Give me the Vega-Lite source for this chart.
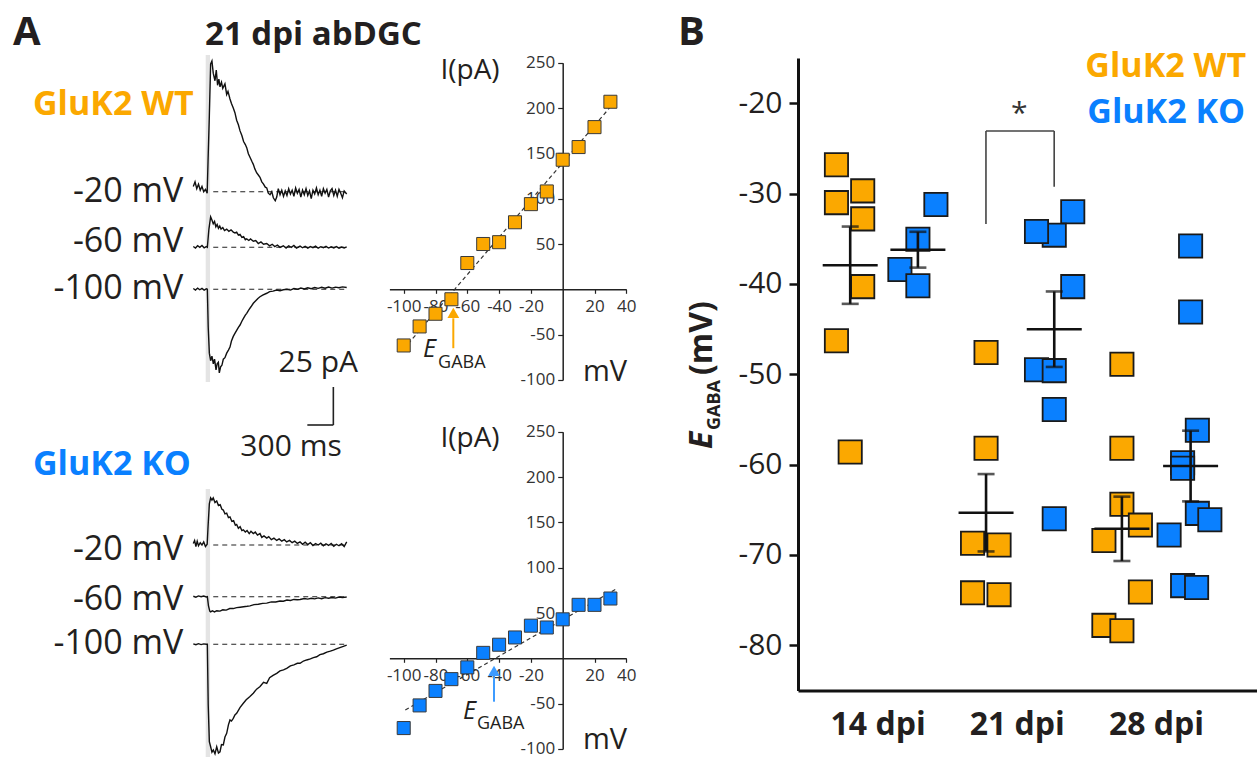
{
"$schema": "https://vega.github.io/schema/vega-lite/v6.json",
"width": 1257, "height": 759, "padding": 0, "autosize": {"type": "none"},
"background": "#ffffff",
"config": {"view": {"stroke": null}, "font": "Open Sans", "text": {"font": "Open Sans", "color": "#231F20"}, "axis": {"labelFont": "Open Sans"}},
"datasets": {
"traces": [
{"tr":"W20","t":0,"pA":3.5},{"tr":"W20","t":20,"pA":6.5},{"tr":"W20","t":40,"pA":2},{"tr":"W20","t":60,"pA":5},{"tr":"W20","t":80,"pA":1},{"tr":"W20","t":100,"pA":3.5},{"tr":"W20","t":120,"pA":0},{"tr":"W20","t":140,"pA":1.5},{"tr":"W20","t":160,"pA":-1},{"tr":"W20","t":170,"pA":20},{"tr":"W20","t":185,"pA":50},{"tr":"W20","t":200,"pA":84},{"tr":"W20","t":215,"pA":86},{"tr":"W20","t":230,"pA":78},{"tr":"W20","t":250,"pA":73},{"tr":"W20","t":265,"pA":80},{"tr":"W20","t":280,"pA":70},{"tr":"W20","t":295,"pA":74},{"tr":"W20","t":308,"pA":69},{"tr":"W20","t":325,"pA":72},{"tr":"W20","t":340,"pA":68},{"tr":"W20","t":365,"pA":71},{"tr":"W20","t":385,"pA":64},{"tr":"W20","t":400,"pA":66},{"tr":"W20","t":423,"pA":61},{"tr":"W20","t":440,"pA":58},{"tr":"W20","t":461,"pA":55},{"tr":"W20","t":480,"pA":52},{"tr":"W20","t":500,"pA":47},{"tr":"W20","t":520,"pA":44},{"tr":"W20","t":539,"pA":40},{"tr":"W20","t":560,"pA":37},{"tr":"W20","t":580,"pA":33},{"tr":"W20","t":600,"pA":31},{"tr":"W20","t":616,"pA":29},{"tr":"W20","t":635,"pA":25},{"tr":"W20","t":655,"pA":22.5},{"tr":"W20","t":675,"pA":20},{"tr":"W20","t":692,"pA":18},{"tr":"W20","t":710,"pA":15},{"tr":"W20","t":730,"pA":12.5},{"tr":"W20","t":750,"pA":11},{"tr":"W20","t":769,"pA":9.5},{"tr":"W20","t":790,"pA":6.5},{"tr":"W20","t":810,"pA":5},{"tr":"W20","t":830,"pA":3},{"tr":"W20","t":847,"pA":2.5},{"tr":"W20","t":865,"pA":-1},{"tr":"W20","t":885,"pA":-2},{"tr":"W20","t":905,"pA":0},{"tr":"W20","t":923,"pA":-4},{"tr":"W20","t":945,"pA":-6},{"tr":"W20","t":962,"pA":-3.5},{"tr":"W20","t":980,"pA":2},{"tr":"W20","t":1000,"pA":-2},{"tr":"W20","t":1020,"pA":1},{"tr":"W20","t":1040,"pA":-3},{"tr":"W20","t":1060,"pA":0.5},{"tr":"W20","t":1080,"pA":-2.5},{"tr":"W20","t":1100,"pA":2},{"tr":"W20","t":1120,"pA":-1.5},{"tr":"W20","t":1140,"pA":1},{"tr":"W20","t":1160,"pA":-3},{"tr":"W20","t":1180,"pA":2.5},{"tr":"W20","t":1200,"pA":-1},{"tr":"W20","t":1220,"pA":1.5},{"tr":"W20","t":1240,"pA":-3.5},{"tr":"W20","t":1260,"pA":1},{"tr":"W20","t":1280,"pA":-2},{"tr":"W20","t":1300,"pA":2},{"tr":"W20","t":1320,"pA":-2.5},{"tr":"W20","t":1340,"pA":0.5},{"tr":"W20","t":1360,"pA":-4.5},{"tr":"W20","t":1380,"pA":1},{"tr":"W20","t":1400,"pA":-1.5},{"tr":"W20","t":1420,"pA":2.5},{"tr":"W20","t":1440,"pA":-2},{"tr":"W20","t":1460,"pA":1},{"tr":"W20","t":1480,"pA":-3},{"tr":"W20","t":1500,"pA":2},{"tr":"W20","t":1520,"pA":-1},{"tr":"W20","t":1540,"pA":1.5},{"tr":"W20","t":1560,"pA":-3.5},{"tr":"W20","t":1580,"pA":0.5},{"tr":"W20","t":1600,"pA":2},{"tr":"W20","t":1620,"pA":-2.5},{"tr":"W20","t":1640,"pA":1},{"tr":"W20","t":1660,"pA":-3},{"tr":"W20","t":1680,"pA":1.5},{"tr":"W20","t":1700,"pA":-1},{"tr":"W20","t":1720,"pA":-4},{"tr":"W20","t":1740,"pA":0.5},{"tr":"W20","t":1769,"pA":-1.5},
{"tr":"W60","t":0,"pA":0.5},{"tr":"W60","t":25,"pA":-0.5},{"tr":"W60","t":50,"pA":1},{"tr":"W60","t":75,"pA":0},{"tr":"W60","t":100,"pA":1.2},{"tr":"W60","t":125,"pA":-0.3},{"tr":"W60","t":150,"pA":0.5},{"tr":"W60","t":162,"pA":0},{"tr":"W60","t":180,"pA":12},{"tr":"W60","t":200,"pA":20},{"tr":"W60","t":215,"pA":18},{"tr":"W60","t":230,"pA":15.5},{"tr":"W60","t":245,"pA":17},{"tr":"W60","t":260,"pA":13.5},{"tr":"W60","t":275,"pA":15},{"tr":"W60","t":290,"pA":12.5},{"tr":"W60","t":305,"pA":14},{"tr":"W60","t":320,"pA":12},{"tr":"W60","t":340,"pA":13},{"tr":"W60","t":360,"pA":11},{"tr":"W60","t":385,"pA":12},{"tr":"W60","t":410,"pA":10.5},{"tr":"W60","t":435,"pA":11.5},{"tr":"W60","t":461,"pA":10},{"tr":"W60","t":480,"pA":9.5},{"tr":"W60","t":500,"pA":10},{"tr":"W60","t":520,"pA":8},{"tr":"W60","t":539,"pA":8.5},{"tr":"W60","t":560,"pA":6.5},{"tr":"W60","t":580,"pA":7},{"tr":"W60","t":600,"pA":5},{"tr":"W60","t":616,"pA":5.5},{"tr":"W60","t":640,"pA":4.5},{"tr":"W60","t":660,"pA":5.5},{"tr":"W60","t":692,"pA":4},{"tr":"W60","t":720,"pA":4.5},{"tr":"W60","t":750,"pA":2.5},{"tr":"W60","t":780,"pA":3.5},{"tr":"W60","t":810,"pA":2},{"tr":"W60","t":847,"pA":2.5},{"tr":"W60","t":880,"pA":1},{"tr":"W60","t":910,"pA":2},{"tr":"W60","t":940,"pA":0.5},{"tr":"W60","t":970,"pA":1.5},{"tr":"W60","t":1000,"pA":0},{"tr":"W60","t":1038,"pA":1},{"tr":"W60","t":1070,"pA":-0.5},{"tr":"W60","t":1100,"pA":1},{"tr":"W60","t":1130,"pA":0},{"tr":"W60","t":1160,"pA":1.2},{"tr":"W60","t":1190,"pA":-0.5},{"tr":"W60","t":1231,"pA":0.8},{"tr":"W60","t":1260,"pA":-0.3},{"tr":"W60","t":1290,"pA":0.7},{"tr":"W60","t":1320,"pA":-0.5},{"tr":"W60","t":1350,"pA":0.5},{"tr":"W60","t":1380,"pA":-0.2},{"tr":"W60","t":1410,"pA":0.8},{"tr":"W60","t":1440,"pA":-0.6},{"tr":"W60","t":1470,"pA":0.4},{"tr":"W60","t":1500,"pA":-0.3},{"tr":"W60","t":1530,"pA":0.6},{"tr":"W60","t":1560,"pA":-0.5},{"tr":"W60","t":1590,"pA":0.3},{"tr":"W60","t":1620,"pA":-0.4},{"tr":"W60","t":1650,"pA":0.5},{"tr":"W60","t":1680,"pA":-0.6},{"tr":"W60","t":1710,"pA":0.2},{"tr":"W60","t":1740,"pA":-0.4},{"tr":"W60","t":1769,"pA":0.3},
{"tr":"W100","t":0,"pA":0.5},{"tr":"W100","t":25,"pA":-0.5},{"tr":"W100","t":50,"pA":0.8},{"tr":"W100","t":75,"pA":-0.3},{"tr":"W100","t":100,"pA":0.6},{"tr":"W100","t":125,"pA":-0.5},{"tr":"W100","t":150,"pA":0.3},{"tr":"W100","t":162,"pA":0},{"tr":"W100","t":172,"pA":-25},{"tr":"W100","t":185,"pA":-42},{"tr":"W100","t":200,"pA":-47},{"tr":"W100","t":215,"pA":-44},{"tr":"W100","t":231,"pA":-49},{"tr":"W100","t":245,"pA":-46},{"tr":"W100","t":262,"pA":-53},{"tr":"W100","t":275,"pA":-49},{"tr":"W100","t":289,"pA":-48},{"tr":"W100","t":300,"pA":-55},{"tr":"W100","t":315,"pA":-51},{"tr":"W100","t":330,"pA":-50},{"tr":"W100","t":346,"pA":-46},{"tr":"W100","t":365,"pA":-45},{"tr":"W100","t":385,"pA":-42},{"tr":"W100","t":405,"pA":-40},{"tr":"W100","t":423,"pA":-38},{"tr":"W100","t":440,"pA":-34},{"tr":"W100","t":461,"pA":-31},{"tr":"W100","t":480,"pA":-29},{"tr":"W100","t":500,"pA":-27},{"tr":"W100","t":520,"pA":-25},{"tr":"W100","t":539,"pA":-23.5},{"tr":"W100","t":560,"pA":-21},{"tr":"W100","t":580,"pA":-19},{"tr":"W100","t":600,"pA":-17},{"tr":"W100","t":616,"pA":-15.8},{"tr":"W100","t":640,"pA":-13.5},{"tr":"W100","t":665,"pA":-11.5},{"tr":"W100","t":692,"pA":-9.2},{"tr":"W100","t":720,"pA":-7.5},{"tr":"W100","t":745,"pA":-6},{"tr":"W100","t":769,"pA":-4.9},{"tr":"W100","t":800,"pA":-3.8},{"tr":"W100","t":847,"pA":-2.6},{"tr":"W100","t":880,"pA":-1.5},{"tr":"W100","t":920,"pA":-1.2},{"tr":"W100","t":960,"pA":-0.5},{"tr":"W100","t":1000,"pA":-0.9},{"tr":"W100","t":1038,"pA":-0.3},{"tr":"W100","t":1080,"pA":0},{"tr":"W100","t":1120,"pA":-0.5},{"tr":"W100","t":1160,"pA":0.5},{"tr":"W100","t":1200,"pA":0},{"tr":"W100","t":1240,"pA":0.8},{"tr":"W100","t":1280,"pA":0.2},{"tr":"W100","t":1320,"pA":1},{"tr":"W100","t":1360,"pA":0.4},{"tr":"W100","t":1400,"pA":1.2},{"tr":"W100","t":1440,"pA":0.6},{"tr":"W100","t":1480,"pA":1.3},{"tr":"W100","t":1520,"pA":0.7},{"tr":"W100","t":1560,"pA":1.5},{"tr":"W100","t":1600,"pA":0.8},{"tr":"W100","t":1640,"pA":1.4},{"tr":"W100","t":1680,"pA":1},{"tr":"W100","t":1720,"pA":1.6},{"tr":"W100","t":1769,"pA":1.2},
{"tr":"K20","t":0,"pA":1},{"tr":"K20","t":15,"pA":3},{"tr":"K20","t":30,"pA":-1},{"tr":"K20","t":45,"pA":2.5},{"tr":"K20","t":60,"pA":-0.5},{"tr":"K20","t":80,"pA":1.5},{"tr":"K20","t":100,"pA":0},{"tr":"K20","t":120,"pA":2},{"tr":"K20","t":140,"pA":-1},{"tr":"K20","t":160,"pA":0.5},{"tr":"K20","t":170,"pA":12},{"tr":"K20","t":185,"pA":27},{"tr":"K20","t":200,"pA":31},{"tr":"K20","t":215,"pA":29.5},{"tr":"K20","t":230,"pA":31},{"tr":"K20","t":250,"pA":28},{"tr":"K20","t":270,"pA":29},{"tr":"K20","t":290,"pA":26},{"tr":"K20","t":310,"pA":26.5},{"tr":"K20","t":330,"pA":23.5},{"tr":"K20","t":346,"pA":23},{"tr":"K20","t":365,"pA":20.5},{"tr":"K20","t":385,"pA":21},{"tr":"K20","t":405,"pA":18},{"tr":"K20","t":423,"pA":18.5},{"tr":"K20","t":445,"pA":15.5},{"tr":"K20","t":465,"pA":16},{"tr":"K20","t":485,"pA":13},{"tr":"K20","t":500,"pA":13.5},{"tr":"K20","t":520,"pA":11},{"tr":"K20","t":540,"pA":12},{"tr":"K20","t":560,"pA":9.5},{"tr":"K20","t":577,"pA":10},{"tr":"K20","t":600,"pA":8.5},{"tr":"K20","t":620,"pA":9.5},{"tr":"K20","t":645,"pA":7.5},{"tr":"K20","t":665,"pA":9},{"tr":"K20","t":692,"pA":7.5},{"tr":"K20","t":715,"pA":8.5},{"tr":"K20","t":740,"pA":6.5},{"tr":"K20","t":769,"pA":7.5},{"tr":"K20","t":790,"pA":5},{"tr":"K20","t":815,"pA":6},{"tr":"K20","t":847,"pA":4.5},{"tr":"K20","t":870,"pA":5.5},{"tr":"K20","t":900,"pA":3.5},{"tr":"K20","t":930,"pA":4.5},{"tr":"K20","t":962,"pA":3},{"tr":"K20","t":990,"pA":4},{"tr":"K20","t":1020,"pA":2.5},{"tr":"K20","t":1050,"pA":3.5},{"tr":"K20","t":1077,"pA":2},{"tr":"K20","t":1110,"pA":3},{"tr":"K20","t":1140,"pA":1.5},{"tr":"K20","t":1170,"pA":2.5},{"tr":"K20","t":1200,"pA":1},{"tr":"K20","t":1231,"pA":2},{"tr":"K20","t":1260,"pA":0.5},{"tr":"K20","t":1290,"pA":1.8},{"tr":"K20","t":1320,"pA":0.3},{"tr":"K20","t":1350,"pA":1.5},{"tr":"K20","t":1380,"pA":-0.3},{"tr":"K20","t":1410,"pA":1},{"tr":"K20","t":1440,"pA":0},{"tr":"K20","t":1470,"pA":1.2},{"tr":"K20","t":1500,"pA":-0.5},{"tr":"K20","t":1530,"pA":0.8},{"tr":"K20","t":1560,"pA":-0.3},{"tr":"K20","t":1590,"pA":1},{"tr":"K20","t":1620,"pA":-0.8},{"tr":"K20","t":1650,"pA":0.5},{"tr":"K20","t":1680,"pA":-0.5},{"tr":"K20","t":1710,"pA":0.8},{"tr":"K20","t":1740,"pA":-1},{"tr":"K20","t":1769,"pA":2},
{"tr":"K60","t":0,"pA":0.3},{"tr":"K60","t":30,"pA":-0.3},{"tr":"K60","t":60,"pA":0.5},{"tr":"K60","t":90,"pA":0},{"tr":"K60","t":120,"pA":0.4},{"tr":"K60","t":150,"pA":-0.2},{"tr":"K60","t":162,"pA":0},{"tr":"K60","t":175,"pA":-6},{"tr":"K60","t":190,"pA":-9.5},{"tr":"K60","t":200,"pA":-10},{"tr":"K60","t":220,"pA":-9.3},{"tr":"K60","t":245,"pA":-10},{"tr":"K60","t":270,"pA":-9.2},{"tr":"K60","t":308,"pA":-9.5},{"tr":"K60","t":340,"pA":-8.6},{"tr":"K60","t":380,"pA":-8.8},{"tr":"K60","t":420,"pA":-7.8},{"tr":"K60","t":461,"pA":-7.8},{"tr":"K60","t":500,"pA":-7.2},{"tr":"K60","t":540,"pA":-6.9},{"tr":"K60","t":580,"pA":-6.6},{"tr":"K60","t":620,"pA":-6.3},{"tr":"K60","t":654,"pA":-6},{"tr":"K60","t":700,"pA":-5.2},{"tr":"K60","t":750,"pA":-5},{"tr":"K60","t":800,"pA":-4.4},{"tr":"K60","t":847,"pA":-4.2},{"tr":"K60","t":900,"pA":-3.4},{"tr":"K60","t":950,"pA":-3.5},{"tr":"K60","t":1000,"pA":-2.8},{"tr":"K60","t":1038,"pA":-3},{"tr":"K60","t":1080,"pA":-2.2},{"tr":"K60","t":1120,"pA":-2.5},{"tr":"K60","t":1160,"pA":-1.8},{"tr":"K60","t":1200,"pA":-2},{"tr":"K60","t":1231,"pA":-1.8},{"tr":"K60","t":1280,"pA":-1.2},{"tr":"K60","t":1320,"pA":-1.6},{"tr":"K60","t":1360,"pA":-1},{"tr":"K60","t":1400,"pA":-1.4},{"tr":"K60","t":1440,"pA":-0.8},{"tr":"K60","t":1480,"pA":-1.3},{"tr":"K60","t":1520,"pA":-0.6},{"tr":"K60","t":1560,"pA":-1},{"tr":"K60","t":1600,"pA":-0.5},{"tr":"K60","t":1640,"pA":-0.9},{"tr":"K60","t":1680,"pA":-0.2},{"tr":"K60","t":1720,"pA":-0.6},{"tr":"K60","t":1769,"pA":-0.2},
{"tr":"K100","t":0,"pA":0.3},{"tr":"K100","t":30,"pA":-0.3},{"tr":"K100","t":60,"pA":0.4},{"tr":"K100","t":90,"pA":-0.2},{"tr":"K100","t":120,"pA":0.3},{"tr":"K100","t":150,"pA":0},{"tr":"K100","t":162,"pA":0},{"tr":"K100","t":172,"pA":-40},{"tr":"K100","t":185,"pA":-64},{"tr":"K100","t":200,"pA":-67.4},{"tr":"K100","t":215,"pA":-71},{"tr":"K100","t":231,"pA":-69.5},{"tr":"K100","t":250,"pA":-72},{"tr":"K100","t":270,"pA":-67.4},{"tr":"K100","t":290,"pA":-71.5},{"tr":"K100","t":308,"pA":-70.7},{"tr":"K100","t":325,"pA":-66},{"tr":"K100","t":346,"pA":-66.2},{"tr":"K100","t":365,"pA":-61},{"tr":"K100","t":385,"pA":-58.6},{"tr":"K100","t":405,"pA":-53},{"tr":"K100","t":423,"pA":-49.8},{"tr":"K100","t":440,"pA":-50.5},{"tr":"K100","t":461,"pA":-48.7},{"tr":"K100","t":480,"pA":-46.5},{"tr":"K100","t":500,"pA":-45.4},{"tr":"K100","t":540,"pA":-41.5},{"tr":"K100","t":577,"pA":-38.8},{"tr":"K100","t":610,"pA":-36.5},{"tr":"K100","t":650,"pA":-34.5},{"tr":"K100","t":692,"pA":-32.2},{"tr":"K100","t":730,"pA":-29.5},{"tr":"K100","t":770,"pA":-27.8},{"tr":"K100","t":810,"pA":-25},{"tr":"K100","t":847,"pA":-25.7},{"tr":"K100","t":880,"pA":-22},{"tr":"K100","t":920,"pA":-20.5},{"tr":"K100","t":962,"pA":-19.1},{"tr":"K100","t":1000,"pA":-17.5},{"tr":"K100","t":1040,"pA":-16.8},{"tr":"K100","t":1077,"pA":-15.8},{"tr":"K100","t":1120,"pA":-14.2},{"tr":"K100","t":1160,"pA":-13.5},{"tr":"K100","t":1200,"pA":-12.5},{"tr":"K100","t":1231,"pA":-12.5},{"tr":"K100","t":1270,"pA":-11},{"tr":"K100","t":1308,"pA":-10.3},{"tr":"K100","t":1350,"pA":-9.6},{"tr":"K100","t":1385,"pA":-8.8},{"tr":"K100","t":1423,"pA":-8.2},{"tr":"K100","t":1460,"pA":-6.8},{"tr":"K100","t":1500,"pA":-6.2},{"tr":"K100","t":1540,"pA":-5.2},{"tr":"K100","t":1580,"pA":-4.5},{"tr":"K100","t":1615,"pA":-3.8},{"tr":"K100","t":1650,"pA":-3},{"tr":"K100","t":1690,"pA":-2.2},{"tr":"K100","t":1730,"pA":-1.4},{"tr":"K100","t":1769,"pA":-0.5}
],
"iv": [
{"g":"WT","mV":-100,"pA":-62},{"g":"WT","mV":-90,"pA":-41},{"g":"WT","mV":-80,"pA":-27},{"g":"WT","mV":-70,"pA":-11},{"g":"WT","mV":-60,"pA":29},{"g":"WT","mV":-50,"pA":50},{"g":"WT","mV":-40,"pA":52},{"g":"WT","mV":-30,"pA":74},{"g":"WT","mV":-20,"pA":94},{"g":"WT","mV":-10,"pA":108},{"g":"WT","mV":0,"pA":143},{"g":"WT","mV":10,"pA":157},{"g":"WT","mV":20,"pA":179},{"g":"WT","mV":30,"pA":207},
{"g":"KO","mV":-100,"pA":-77},{"g":"KO","mV":-90,"pA":-52},{"g":"KO","mV":-80,"pA":-36},{"g":"KO","mV":-70,"pA":-23},{"g":"KO","mV":-60,"pA":-10},{"g":"KO","mV":-50,"pA":6},{"g":"KO","mV":-40,"pA":15},{"g":"KO","mV":-30,"pA":23},{"g":"KO","mV":-20,"pA":36},{"g":"KO","mV":-10,"pA":34},{"g":"KO","mV":0,"pA":43},{"g":"KO","mV":10,"pA":59},{"g":"KO","mV":20,"pA":59},{"g":"KO","mV":30,"pA":66}
],
"eg": [
{"g":"WT","dpi":14,"v":-26.8,"sw":-0.55},{"g":"WT","dpi":14,"v":-31.0,"sw":-0.55},{"g":"WT","dpi":14,"v":-29.7,"sw":0.5},{"g":"WT","dpi":14,"v":-32.8,"sw":0.5},{"g":"WT","dpi":14,"v":-40.3,"sw":0.5},{"g":"WT","dpi":14,"v":-46.3,"sw":-0.55},{"g":"WT","dpi":14,"v":-58.6,"sw":0},
{"g":"KO","dpi":14,"v":-31.2,"sw":0.72},{"g":"KO","dpi":14,"v":-35.05,"sw":0},{"g":"KO","dpi":14,"v":-38.4,"sw":-0.72},{"g":"KO","dpi":14,"v":-40.2,"sw":0},
{"g":"WT","dpi":21,"v":-47.6,"sw":0},{"g":"WT","dpi":21,"v":-58.2,"sw":0},{"g":"WT","dpi":21,"v":-68.7,"sw":-0.54},{"g":"WT","dpi":21,"v":-68.9,"sw":0.52},{"g":"WT","dpi":21,"v":-74.2,"sw":-0.54},{"g":"WT","dpi":21,"v":-74.4,"sw":0.52},
{"g":"KO","dpi":21,"v":-32.0,"sw":0.74},{"g":"KO","dpi":21,"v":-34.6,"sw":0},{"g":"KO","dpi":21,"v":-34.2,"sw":-0.71},{"g":"KO","dpi":21,"v":-40.3,"sw":0.74},{"g":"KO","dpi":21,"v":-49.5,"sw":-0.71},{"g":"KO","dpi":21,"v":-49.6,"sw":0},{"g":"KO","dpi":21,"v":-53.9,"sw":0},{"g":"KO","dpi":21,"v":-66.0,"sw":0},
{"g":"WT","dpi":28,"v":-48.9,"sw":0},{"g":"WT","dpi":28,"v":-58.2,"sw":0},{"g":"WT","dpi":28,"v":-64.4,"sw":0},{"g":"WT","dpi":28,"v":-66.7,"sw":0.74},{"g":"WT","dpi":28,"v":-68.4,"sw":-0.72},{"g":"WT","dpi":28,"v":-74.1,"sw":0.74},{"g":"WT","dpi":28,"v":-77.8,"sw":-0.72},{"g":"WT","dpi":28,"v":-78.4,"sw":0},
{"g":"KO","dpi":28,"v":-35.8,"sw":0},{"g":"KO","dpi":28,"v":-43.1,"sw":0},{"g":"KO","dpi":28,"v":-56.2,"sw":0.27},{"g":"KO","dpi":28,"v":-59.8,"sw":-0.32},{"g":"KO","dpi":28,"v":-60.4,"sw":-0.32},{"g":"KO","dpi":28,"v":-65.4,"sw":0.27},{"g":"KO","dpi":28,"v":-66.1,"sw":0.77},{"g":"KO","dpi":28,"v":-67.8,"sw":-0.86},{"g":"KO","dpi":28,"v":-73.4,"sw":-0.32},{"g":"KO","dpi":28,"v":-73.6,"sw":0.24}
]
},
"resolve": {"scale": {"x": "independent", "y": "independent"}},
"layer": [
{
 "layer": [
  {"data": {"values": [{}]}, "mark": {"type": "rect", "color": "#E4E4E4"}, "encoding": {"x": {"datum": 143, "axis": null}, "x2": {"datum": 193}, "y": {"datum": 90, "axis": null}, "y2": {"datum": -125.2}}},
  {"data": {"values": [{}]}, "mark": {"type": "rule", "color": "#222", "strokeWidth": 1.1, "strokeDash": [5, 4]}, "encoding": {"x": {"datum": 230, "axis": null}, "x2": {"datum": 1769}, "y": {"datum": 0, "axis": null}}},
  {"data": {"name": "traces"}, "transform": [{"filter": "datum.tr == 'W20'"}], "mark": {"type": "line", "color": "#111", "strokeWidth": 1.4},
   "encoding": {"x": {"field": "t", "type": "quantitative", "scale": {"domain": [0, 1769], "range": [193.3, 346.7], "nice": false, "zero": false}, "axis": null},
                "y": {"field": "pA", "type": "quantitative", "scale": {"domain": [0, 100], "range": [191.7, 39.7], "nice": false, "zero": false}, "axis": null}}},
  {"data": {"values": [{}]}, "mark": {"type": "text", "align": "right", "baseline": "middle", "fontSize": 34}, "encoding": {"x": {"datum": -115, "axis": null}, "y": {"datum": 0, "axis": null}, "text": {"value": "-20 mV"}}},
  {"data": {"values": [{}]}, "mark": {"type": "text", "align": "left", "baseline": "alphabetic", "fontSize": 40, "fontWeight": "bold"}, "encoding": {"x": {"datum": -2080, "axis": null}, "y": {"datum": 96.5, "axis": null}, "text": {"value": "A"}}},
  {"data": {"values": [{}]}, "mark": {"type": "text", "align": "left", "baseline": "alphabetic", "fontSize": 33, "fontWeight": "bold"}, "encoding": {"x": {"datum": 135, "axis": null}, "y": {"datum": 96.5, "axis": null}, "text": {"value": "21 dpi abDGC"}}},
  {"data": {"values": [{}]}, "mark": {"type": "text", "align": "left", "baseline": "alphabetic", "fontSize": 34, "fontWeight": "bold", "color": "#FBA800"}, "encoding": {"x": {"datum": -1849, "axis": null}, "y": {"datum": 50.5, "axis": null}, "text": {"value": "GluK2 WT"}}}
 ]
},
{
 "layer": [
  {"data": {"values": [{}]}, "mark": {"type": "rule", "color": "#222", "strokeWidth": 1.1, "strokeDash": [5, 4]}, "encoding": {"x": {"datum": 230, "axis": null}, "x2": {"datum": 1769}, "y": {"datum": 0, "axis": null}}},
  {"data": {"name": "traces"}, "transform": [{"filter": "datum.tr == 'W60'"}], "mark": {"type": "line", "color": "#111", "strokeWidth": 1.4},
   "encoding": {"x": {"field": "t", "type": "quantitative", "scale": {"domain": [0, 1769], "range": [193.3, 346.7], "nice": false, "zero": false}, "axis": null},
                "y": {"field": "pA", "type": "quantitative", "scale": {"domain": [0, 100], "range": [247.3, 95.3], "nice": false, "zero": false}, "axis": null}}},
  {"data": {"values": [{}]}, "mark": {"type": "text", "align": "right", "baseline": "middle", "fontSize": 34}, "encoding": {"x": {"datum": -115, "axis": null}, "y": {"datum": 3.7, "axis": null}, "text": {"value": "-60 mV"}}}
 ]
},
{
 "layer": [
  {"data": {"values": [{}]}, "mark": {"type": "rule", "color": "#222", "strokeWidth": 1.1, "strokeDash": [5, 4]}, "encoding": {"x": {"datum": 230, "axis": null}, "x2": {"datum": 1769}, "y": {"datum": 0, "axis": null}}},
  {"data": {"name": "traces"}, "transform": [{"filter": "datum.tr == 'W100'"}], "mark": {"type": "line", "color": "#111", "strokeWidth": 1.4},
   "encoding": {"x": {"field": "t", "type": "quantitative", "scale": {"domain": [0, 1769], "range": [193.3, 346.7], "nice": false, "zero": false}, "axis": null},
                "y": {"field": "pA", "type": "quantitative", "scale": {"domain": [0, 100], "range": [289.3, 137.3], "nice": false, "zero": false}, "axis": null}}},
  {"data": {"values": [{}]}, "mark": {"type": "text", "align": "right", "baseline": "middle", "fontSize": 34}, "encoding": {"x": {"datum": -115, "axis": null}, "y": {"datum": 0, "axis": null}, "text": {"value": "-100 mV"}}}
 ]
},
{
 "layer": [
  {"data": {"values": [{}]}, "mark": {"type": "rect", "color": "#E4E4E4"}, "encoding": {"x": {"datum": 143, "axis": null}, "x2": {"datum": 193}, "y": {"datum": 36.8, "axis": null}, "y2": {"datum": -139.5}}},
  {"data": {"values": [{}]}, "mark": {"type": "rule", "color": "#222", "strokeWidth": 1.1, "strokeDash": [5, 4]}, "encoding": {"x": {"datum": 230, "axis": null}, "x2": {"datum": 1769}, "y": {"datum": 0, "axis": null}}},
  {"data": {"name": "traces"}, "transform": [{"filter": "datum.tr == 'K20'"}], "mark": {"type": "line", "color": "#111", "strokeWidth": 1.4},
   "encoding": {"x": {"field": "t", "type": "quantitative", "scale": {"domain": [0, 1769], "range": [193.3, 346.7], "nice": false, "zero": false}, "axis": null},
                "y": {"field": "pA", "type": "quantitative", "scale": {"domain": [0, 100], "range": [545, 393], "nice": false, "zero": false}, "axis": null}}},
  {"data": {"values": [{}]}, "mark": {"type": "text", "align": "right", "baseline": "middle", "fontSize": 34}, "encoding": {"x": {"datum": -115, "axis": null}, "y": {"datum": -3.3, "axis": null}, "text": {"value": "-20 mV"}}},
  {"data": {"values": [{}]}, "mark": {"type": "text", "align": "left", "baseline": "alphabetic", "fontSize": 34, "fontWeight": "bold", "color": "#0A80FF"}, "encoding": {"x": {"datum": -1849, "axis": null}, "y": {"datum": 46, "axis": null}, "text": {"value": "GluK2 KO"}}}
 ]
},
{
 "layer": [
  {"data": {"values": [{}]}, "mark": {"type": "rule", "color": "#222", "strokeWidth": 1.1, "strokeDash": [5, 4]}, "encoding": {"x": {"datum": 230, "axis": null}, "x2": {"datum": 1769}, "y": {"datum": 0, "axis": null}}},
  {"data": {"name": "traces"}, "transform": [{"filter": "datum.tr == 'K60'"}], "mark": {"type": "line", "color": "#111", "strokeWidth": 1.4},
   "encoding": {"x": {"field": "t", "type": "quantitative", "scale": {"domain": [0, 1769], "range": [193.3, 346.7], "nice": false, "zero": false}, "axis": null},
                "y": {"field": "pA", "type": "quantitative", "scale": {"domain": [0, 100], "range": [596.7, 444.7], "nice": false, "zero": false}, "axis": null}}},
  {"data": {"values": [{}]}, "mark": {"type": "text", "align": "right", "baseline": "middle", "fontSize": 34}, "encoding": {"x": {"datum": -115, "axis": null}, "y": {"datum": -2.2, "axis": null}, "text": {"value": "-60 mV"}}}
 ]
},
{
 "layer": [
  {"data": {"values": [{}]}, "mark": {"type": "rule", "color": "#222", "strokeWidth": 1.1, "strokeDash": [5, 4]}, "encoding": {"x": {"datum": 230, "axis": null}, "x2": {"datum": 1769}, "y": {"datum": 0, "axis": null}}},
  {"data": {"name": "traces"}, "transform": [{"filter": "datum.tr == 'K100'"}], "mark": {"type": "line", "color": "#111", "strokeWidth": 1.4},
   "encoding": {"x": {"field": "t", "type": "quantitative", "scale": {"domain": [0, 1769], "range": [193.3, 346.7], "nice": false, "zero": false}, "axis": null},
                "y": {"field": "pA", "type": "quantitative", "scale": {"domain": [0, 100], "range": [644.3, 492.3], "nice": false, "zero": false}, "axis": null}}},
  {"data": {"values": [{}]}, "mark": {"type": "text", "align": "right", "baseline": "middle", "fontSize": 34}, "encoding": {"x": {"datum": -115, "axis": null}, "y": {"datum": 0, "axis": null}, "text": {"value": "-100 mV"}}}
 ]
},
{
 "data": {"values": [{}]},
 "layer": [
  {"mark": {"type": "rule", "color": "#222", "strokeWidth": 1.6}, "encoding": {"x": {"datum": 1615, "type": "quantitative", "scale": {"domain": [0, 1769], "range": [193.3, 346.7], "nice": false, "zero": false}, "axis": null}, "y": {"datum": 0, "type": "quantitative", "scale": {"domain": [0, 25], "range": [425, 387], "nice": false, "zero": false}, "axis": null}, "y2": {"datum": 25}}},
  {"mark": {"type": "rule", "color": "#222", "strokeWidth": 1.6}, "encoding": {"x": {"datum": 1315, "axis": null}, "x2": {"datum": 1615}, "y": {"datum": 0, "axis": null}}},
  {"mark": {"type": "text", "align": "right", "baseline": "middle", "fontSize": 30}, "encoding": {"x": {"datum": 1900, "axis": null}, "y": {"datum": 40.8, "axis": null}, "text": {"value": "25 pA"}}},
  {"mark": {"type": "text", "align": "center", "baseline": "middle", "fontSize": 30}, "encoding": {"x": {"datum": 1127, "axis": null}, "y": {"datum": -14.5, "axis": null}, "text": {"value": "300 ms"}}}
 ]
},
{
 "data": {"values": [{}]},
 "layer": [
  {"mark": {"type": "rule", "color": "#333", "strokeWidth": 1.2, "strokeDash": [4, 3]}, "encoding": {"x": {"datum": -100, "type": "quantitative", "scale": {"domain": [-109, 40], "range": [389.4, 626.3], "nice": false, "zero": false}, "axis": null}, "x2": {"datum": 30.8}, "y": {"datum": -66, "type": "quantitative", "scale": {"domain": [-100, 250], "range": [379.9, 62.8], "nice": false, "zero": false}, "axis": null}, "y2": {"datum": 203}}},
  {"mark": {"type": "rule", "color": "#FBA800", "strokeWidth": 2}, "encoding": {"x": {"datum": -68.8, "axis": null}, "y": {"datum": -65, "axis": null}, "y2": {"datum": -32}}},
  {"mark": {"type": "point", "shape": "triangle-up", "size": 140, "filled": true, "color": "#FBA800", "opacity": 1}, "encoding": {"x": {"datum": -68.8, "axis": null}, "y": {"datum": -26, "axis": null}}},
  {"mark": {"type": "text", "align": "left", "baseline": "middle", "fontSize": 25, "fontStyle": "italic"}, "encoding": {"x": {"datum": -87.9, "axis": null}, "y": {"datum": -65.9, "axis": null}, "text": {"value": "E"}}},
  {"mark": {"type": "text", "align": "left", "baseline": "middle", "fontSize": 18}, "encoding": {"x": {"datum": -78.4, "axis": null}, "y": {"datum": -81.3, "axis": null}, "text": {"value": "GABA"}}},
  {"mark": {"type": "text", "align": "center", "baseline": "middle", "fontSize": 28}, "encoding": {"x": {"datum": -58.3, "axis": null}, "y": {"datum": 241, "axis": null}, "text": {"value": "I(pA)"}}},
  {"mark": {"type": "text", "align": "center", "baseline": "middle", "fontSize": 29}, "encoding": {"x": {"datum": 26.6, "axis": null}, "y": {"datum": -91.3, "axis": null}, "text": {"value": "mV"}}}
 ]
},
{
 "data": {"name": "iv"}, "transform": [{"filter": "datum.g == 'WT'"}],
 "mark": {"type": "square", "size": 170, "filled": true, "fill": "#FBA800", "stroke": "#3a3a3a", "strokeWidth": 1, "opacity": 1},
 "encoding": {
  "x": {"field": "mV", "type": "quantitative", "scale": {"domain": [-109, 40], "range": [389.4, 626.3], "nice": false, "zero": false},
        "axis": {"orient": "bottom", "offset": -469.7, "values": [-100, -80, -60, -40, -20, 20, 40], "labelExpr": "datum.value < 0 ? '-' + abs(datum.value) : '' + datum.value", "tickSize": 4, "tickColor": "#222", "domainColor": "#222", "domainWidth": 1.5, "tickWidth": 1.2, "labelFontSize": 17, "labelColor": "#333", "labelPadding": 5, "labelOverlap": false, "labelFlush": false, "title": null, "grid": false}},
  "y": {"field": "pA", "type": "quantitative", "scale": {"domain": [-100, 250], "range": [379.9, 62.8], "nice": false, "zero": false},
        "axis": {"orient": "left", "offset": -562.7, "values": [-100, -50, 50, 100, 150, 200, 250], "labelExpr": "datum.value < 0 ? '-' + abs(datum.value) : '' + datum.value", "tickSize": 5, "tickColor": "#222", "domainColor": "#222", "domainWidth": 1.5, "tickWidth": 1.2, "labelFontSize": 17, "labelColor": "#333", "labelPadding": 3, "labelOverlap": false, "title": null, "grid": false}}
 }
},
{
 "data": {"values": [{}]},
 "layer": [
  {"mark": {"type": "rule", "color": "#333", "strokeWidth": 1.2, "strokeDash": [4, 3]}, "encoding": {"x": {"datum": -99, "type": "quantitative", "scale": {"domain": [-109, 40], "range": [389.4, 626.3], "nice": false, "zero": false}, "axis": null}, "x2": {"datum": 34.5}, "y": {"datum": -57, "type": "quantitative", "scale": {"domain": [-100, 250], "range": [748.9, 431.8], "nice": false, "zero": false}, "axis": null}, "y2": {"datum": 77.3}}},
  {"mark": {"type": "rule", "color": "#3D9BFF", "strokeWidth": 2}, "encoding": {"x": {"datum": -43.2, "axis": null}, "y": {"datum": -47.9, "axis": null}, "y2": {"datum": -20}}},
  {"mark": {"type": "point", "shape": "triangle-up", "size": 140, "filled": true, "color": "#3D9BFF", "opacity": 1}, "encoding": {"x": {"datum": -43.2, "axis": null}, "y": {"datum": -14, "axis": null}}},
  {"mark": {"type": "text", "align": "left", "baseline": "middle", "fontSize": 25, "fontStyle": "italic"}, "encoding": {"x": {"datum": -62.7, "axis": null}, "y": {"datum": -58.2, "axis": null}, "text": {"value": "E"}}},
  {"mark": {"type": "text", "align": "left", "baseline": "middle", "fontSize": 18}, "encoding": {"x": {"datum": -53.9, "axis": null}, "y": {"datum": -72.5, "axis": null}, "text": {"value": "GABA"}}},
  {"mark": {"type": "text", "align": "center", "baseline": "middle", "fontSize": 28}, "encoding": {"x": {"datum": -58.3, "axis": null}, "y": {"datum": 242, "axis": null}, "text": {"value": "I(pA)"}}},
  {"mark": {"type": "text", "align": "center", "baseline": "middle", "fontSize": 29}, "encoding": {"x": {"datum": 26.6, "axis": null}, "y": {"datum": -90.2, "axis": null}, "text": {"value": "mV"}}}
 ]
},
{
 "data": {"name": "iv"}, "transform": [{"filter": "datum.g == 'KO'"}],
 "mark": {"type": "square", "size": 170, "filled": true, "fill": "#0A80FF", "stroke": "#3a3a3a", "strokeWidth": 1, "opacity": 1},
 "encoding": {
  "x": {"field": "mV", "type": "quantitative", "scale": {"domain": [-109, 40], "range": [389.4, 626.3], "nice": false, "zero": false},
        "axis": {"orient": "bottom", "offset": -100.7, "values": [-100, -80, -60, -40, -20, 20, 40], "labelExpr": "datum.value < 0 ? '-' + abs(datum.value) : '' + datum.value", "tickSize": 4, "tickColor": "#222", "domainColor": "#222", "domainWidth": 1.5, "tickWidth": 1.2, "labelFontSize": 17, "labelColor": "#333", "labelPadding": 5, "labelOverlap": false, "labelFlush": false, "title": null, "grid": false}},
  "y": {"field": "pA", "type": "quantitative", "scale": {"domain": [-100, 250], "range": [748.9, 431.8], "nice": false, "zero": false},
        "axis": {"orient": "left", "offset": -562.7, "values": [-100, -50, 50, 100, 150, 200, 250], "labelExpr": "datum.value < 0 ? '-' + abs(datum.value) : '' + datum.value", "tickSize": 5, "tickColor": "#222", "domainColor": "#222", "domainWidth": 1.5, "tickWidth": 1.2, "labelFontSize": 17, "labelColor": "#333", "labelPadding": 3, "labelOverlap": false, "title": null, "grid": false}}
 }
},
{
 "data": {"values": [{}]},
 "mark": {"type": "rule", "color": "#444", "strokeWidth": 1.6},
 "encoding": {
  "x": {"datum": 19.45, "type": "quantitative", "scale": {"domain": [10, 33.077], "range": [798, 1257], "nice": false, "zero": false},
        "axis": {"orient": "bottom", "offset": -68.6, "values": [14, 21, 28], "labelExpr": "datum.value + ' dpi'", "ticks": false, "tickSize": 0, "domainColor": "#111", "domainWidth": 3, "labelFontSize": 32, "labelFontWeight": "bold", "labelColor": "#231F20", "labelPadding": 19, "labelFlush": false, "labelOverlap": false, "title": null, "grid": false}},
  "y": {"datum": -33.36, "type": "quantitative", "scale": {"domain": [-85, -15], "range": [690.4, 58.1], "nice": false, "zero": false},
        "axis": {"orient": "left", "offset": -798, "values": [-80, -70, -60, -50, -40, -30, -20], "labelExpr": "'-' + abs(datum.value)", "tickSize": 9, "tickWidth": 2.5, "tickColor": "#111", "domainColor": "#111", "domainWidth": 3, "labelFontSize": 30, "labelColor": "#231F20", "labelPadding": 7, "labelOverlap": false, "title": null, "grid": false}},
  "y2": {"datum": -23.07}
 }
},
{
 "data": {"values": [{}]},
 "layer": [
  {"mark": {"type": "rule", "color": "#444", "strokeWidth": 1.6}, "encoding": {"x": {"datum": 19.45, "type": "quantitative", "scale": {"domain": [10, 33.077], "range": [798, 1257], "nice": false, "zero": false}, "axis": null}, "x2": {"datum": 22.88}, "y": {"datum": -23.07, "type": "quantitative", "scale": {"domain": [-85, -15], "range": [690.4, 58.1], "nice": false, "zero": false}, "axis": null}}},
  {"mark": {"type": "rule", "color": "#444", "strokeWidth": 1.6}, "encoding": {"x": {"datum": 22.88, "axis": null}, "y": {"datum": -23.07, "axis": null}, "y2": {"datum": -29.23}}},
  {"mark": {"type": "text", "align": "center", "baseline": "alphabetic", "fontSize": 30, "color": "#333"}, "encoding": {"x": {"datum": 21.13, "axis": null}, "y": {"datum": -22.18, "axis": null}, "text": {"value": "*"}}},
  {"mark": {"type": "text", "align": "right", "baseline": "alphabetic", "fontSize": 34, "fontWeight": "bold", "color": "#FBA800"}, "encoding": {"x": {"datum": 32.53, "axis": null}, "y": {"datum": -17.06, "axis": null}, "text": {"value": "GluK2 WT"}}},
  {"mark": {"type": "text", "align": "right", "baseline": "alphabetic", "fontSize": 34, "fontWeight": "bold", "color": "#0A80FF"}, "encoding": {"x": {"datum": 32.48, "axis": null}, "y": {"datum": -22.21, "axis": null}, "text": {"value": "GluK2 KO"}}},
  {"mark": {"type": "text", "align": "left", "baseline": "alphabetic", "fontSize": 40, "fontWeight": "bold"}, "encoding": {"x": {"datum": 3.97, "axis": null}, "y": {"datum": -13.55, "axis": null}, "text": {"value": "B"}}},
  {"mark": {"type": "text", "align": "left", "baseline": "alphabetic", "angle": 270, "fontSize": 32, "fontWeight": "bold", "fontStyle": "italic"}, "encoding": {"x": {"datum": 5.68, "axis": null}, "y": {"datum": -58.27, "axis": null}, "text": {"value": "E"}}},
  {"mark": {"type": "text", "align": "left", "baseline": "alphabetic", "angle": 270, "fontSize": 18, "fontWeight": "bold"}, "encoding": {"x": {"datum": 6.08, "axis": null}, "y": {"datum": -56.17, "axis": null}, "text": {"value": "GABA"}}},
  {"mark": {"type": "text", "align": "left", "baseline": "alphabetic", "angle": 270, "fontSize": 32, "fontWeight": "bold"}, "encoding": {"x": {"datum": 5.68, "axis": null}, "y": {"datum": -50.08, "axis": null}, "text": {"value": "(mV)"}}}
 ]
},
{
 "data": {"name": "eg"}, "transform": [{"filter": "datum.g == 'WT'"}],
 "layer": [
  {"mark": {"type": "square", "size": 540, "filled": true, "fill": "#FBA800", "stroke": "#1a1a1a", "strokeWidth": 1.8, "opacity": 1},
   "encoding": {"x": {"field": "dpi", "type": "ordinal", "scale": {"type": "point", "domain": [14, 21, 28], "range": [850.2, 1121.9], "padding": 0}, "axis": null},
                "y": {"field": "v", "type": "quantitative", "scale": {"domain": [-85, -15], "range": [690.4, 58.1], "nice": false, "zero": false}, "axis": null},
                "xOffset": {"field": "sw", "type": "quantitative", "scale": {"domain": [-1, 1], "range": [-25, 25]}}}},
  {"mark": {"type": "errorbar", "extent": "stderr", "ticks": {"size": 17}, "thickness": 2.6, "color": "#111"}, "encoding": {"x": {"field": "dpi", "type": "ordinal", "axis": null}, "y": {"field": "v", "type": "quantitative", "axis": null}}},
  {"mark": {"type": "tick", "size": 55, "thickness": 2.6, "color": "#111", "orient": "horizontal", "opacity": 1}, "encoding": {"x": {"field": "dpi", "type": "ordinal", "axis": null}, "y": {"aggregate": "mean", "field": "v", "type": "quantitative", "axis": null}}}
 ]
},
{
 "data": {"name": "eg"}, "transform": [{"filter": "datum.g == 'KO'"}],
 "layer": [
  {"mark": {"type": "square", "size": 540, "filled": true, "fill": "#0A80FF", "stroke": "#1a1a1a", "strokeWidth": 1.8, "opacity": 1},
   "encoding": {"x": {"field": "dpi", "type": "ordinal", "scale": {"type": "point", "domain": [14, 21, 28], "range": [917.9, 1190.6], "padding": 0}, "axis": null},
                "y": {"field": "v", "type": "quantitative", "scale": {"domain": [-85, -15], "range": [690.4, 58.1], "nice": false, "zero": false}, "axis": null},
                "xOffset": {"field": "sw", "type": "quantitative", "scale": {"domain": [-1, 1], "range": [-25, 25]}}}},
  {"mark": {"type": "errorbar", "extent": "stderr", "ticks": {"size": 17}, "thickness": 2.6, "color": "#111"}, "encoding": {"x": {"field": "dpi", "type": "ordinal", "axis": null}, "y": {"field": "v", "type": "quantitative", "axis": null}}},
  {"mark": {"type": "tick", "size": 55, "thickness": 2.6, "color": "#111", "orient": "horizontal", "opacity": 1}, "encoding": {"x": {"field": "dpi", "type": "ordinal", "axis": null}, "y": {"aggregate": "mean", "field": "v", "type": "quantitative", "axis": null}}}
 ]
}
]
}
